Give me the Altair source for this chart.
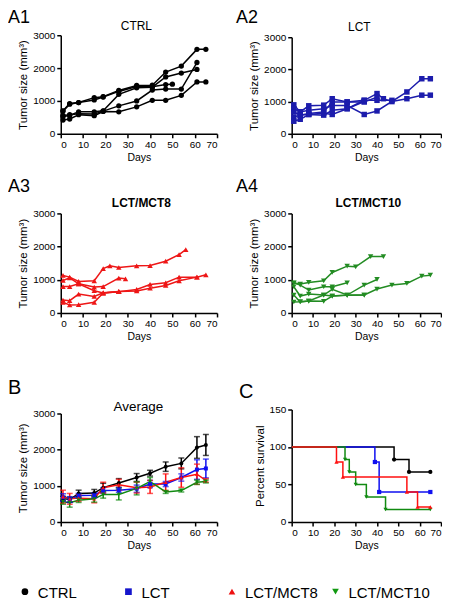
import altair as alt
import pandas as pd

FONT = "Liberation Sans"

GROUPS = ["CTRL", "LCT", "LCT/MCT8", "LCT/MCT10"]
DARK_COLORS = ["#000000", "#1c1cac", "#ee1616", "#238c23"]
BRIGHT_COLORS = ["#000000", "#1010f0", "#ff1010", "#118a11"]
SHAPES = ["circle", "square", "triangle-up", "triangle-down"]

X_TICKS = [0, 10, 20, 30, 40, 50, 60, 70]
Y_TICKS = [0, 1000, 2000, 3000]
SURV_TICKS = [0, 50, 100, 150]

# ---- A1: CTRL individual mice ----
CTRL_DAYS = [1, 4, 8, 15, 19, 26, 34, 41, 47, 50, 54, 61, 65]
CTRL_M1 = [700, 920, 950, 1100, 1130, 1320, 1470, 1480, 1880, None, 2060, 2570, 2570]
CTRL_M2 = [690, 900, 950, 1030, 1120, 1290, 1440, 1430, 1500, 1510, None, None, None]
CTRL_M3 = [520, 560, 670, 670, 700, 1200, 1400, 1420, 1730, None, 1850, 1960, None]
CTRL_M4 = [560, 580, 610, 600, 690, 850, 1000, 1330, 1360, None, 1360, 2170, None]
CTRL_M5 = [420, 450, 580, 550, 680, 670, 820, 1020, 1020, None, 1170, 1580, 1580]

# ---- A2: LCT ----
LCT_DAYS = [1, 4, 8, 15, 19, 26, 34, 40, 43, 47, 54, 61, 65]
LCT_M1 = [900, 680, 870, 890, 1090, 990, 1040, 1250, 1090, 1000, 1090, 1200, 1200]
LCT_M2 = [780, 680, 730, 780, 880, 880, 600, 710, None, None, 1300, 1710, 1710]
LCT_M3 = [680, 580, 630, 680, 990, 990, 990, 1140, None, None, None, None, None]
LCT_M4 = [520, 580, 600, 580, 730, 780, 1040, 1040, None, 1040, None, None, None]
LCT_M5 = [390, 450, 600, 640, 600, 780, 1000, None, None, None, None, None, None]

# ---- A3: LCT/MCT8 ----
MCT8_DAYS = [1, 4, 8, 15, 19, 22, 26, 29, 34, 40, 47, 53, 56, 61, 65]
MCT8_M1 = [1130, 1080, 950, 970, 1335, 1420, 1370, None, 1420, 1430, 1560, 1760, 1910, None, None]
MCT8_M2 = [980, 1060, 880, 780, 795, None, 1050, 1030, None, None, None, None, None, None, None]
MCT8_M3 = [795, 795, 880, 670, 600, None, 640, None, 710, 860, 910, 1080, None, 1080, 1150]
MCT8_M4 = [390, 370, 570, 500, 610, None, 650, None, 665, 745, 830, 970, None, 1080, None]
MCT8_M5 = [320, 240, 250, 320, 600, None, 640, None, None, None, None, None, None, None, None]

# ---- A4: LCT/MCT10 ----
MCT10_DAYS = [1, 4, 8, 15, 19, 26, 30, 34, 37, 40, 43, 47, 54, 61, 65]
MCT10_M1 = [900, 870, 920, 970, 1220, 1410, 1390, None, 1700, None, 1700, None, None, None, None]
MCT10_M2 = [910, 840, 690, 790, 790, 910, None, None, None, None, None, None, None, None, None]
MCT10_M3 = [790, 510, 570, 540, 710, 540, None, 840, None, 1010, None, None, None, None, None]
MCT10_M4 = [540, 330, 360, 350, 510, 530, None, 540, None, 720, None, 840, 890, 1110, 1140]
MCT10_M5 = [330, 340, 360, 540, 510, 540, None, 540, None, None, None, None, None, None, None]

# ---- B: averages ----
AVG_DAYS = [1, 4, 8, 15, 19, 26, 34, 40, 47, 54, 61, 65]
CTRL_MEAN = [650, 620, 790, 800, 950, 1080, 1230, 1350, 1530, 1620, 2060, 2130]
CTRL_SEM = [60, 70, 90, 100, 120, 120, 110, 80, 130, 150, 300, 290]
LCT_MEAN = [680, 620, 730, 740, 870, 880, 920, 1050, 1050, 1230, 1450, 1480]
LCT_SEM = [100, 80, 60, 70, 80, 60, 100, 100, 70, 100, 270, 260]
MCT8_MEAN = [700, 640, 660, 640, 950, 1030, 950, 970, 1100, 1230, 1320, 1150]
MCT8_SEM = [180, 150, 90, 110, 150, 150, 150, 180, 230, 270, 280, 50]
MCT10_MEAN = [560, 530, 600, 640, 760, 760, 930, 1120, 830, 870, 1100, 1120]
MCT10_SEM = [70, 120, 60, 90, 100, 150, 180, 110, 40, 40, 60, 40]

# ---- C: survival ----
CTRL_SURV_DAYS = [0, 48, 55, 65]
CTRL_SURV = [100, 83.3, 66.7, 66.7]
LCT_SURV_DAYS = [0, 39, 41, 65]
LCT_SURV = [100, 80, 40, 40]
MCT8_SURV_DAYS = [0, 21, 24, 54, 59, 65]
MCT8_SURV = [100, 80, 60, 40, 20, 20]
MCT10_SURV_DAYS = [0, 25, 27, 30, 35, 44, 65]
MCT10_SURV = [100, 83.3, 66.7, 50, 33.3, 16.7, 16.7]


def tidy(days, mice):
    rows = []
    for i, vals in enumerate(mice):
        for d, v in zip(days, vals):
            if v is not None:
                rows.append({"day": d, "size": v, "mouse": i})
    return pd.DataFrame(rows)


def txt(label, x, y, size, baseline="alphabetic", weight="normal", align="left"):
    return alt.Chart(pd.DataFrame({"t": [label]})).mark_text(
        font=FONT, fontSize=size, fontWeight=weight, align=align,
        baseline=baseline, color="black"
    ).encode(text="t:N", x=alt.value(x), y=alt.value(y))


def x_enc():
    return alt.X("day:Q", scale=alt.Scale(domain=[0, 70], nice=False),
                 axis=alt.Axis(values=X_TICKS, title="Days", titlePadding=3,
                               titleFontSize=10.5))


def tumor_panel(days, mice, color, shape, msize, width, height, top,
                label, lx, ly, lbase, title, tx, ty, tweight):
    df = tidy(days, mice)
    y = alt.Y("size:Q",
              scale=alt.Scale(domain=[0, 3000], nice=False, range=[height, top]),
              axis=alt.Axis(values=Y_TICKS, format="d", title="Tumor size (mm³)",
                            titlePadding=4))
    base = alt.Chart(df).encode(x=x_enc(), y=y, detail="mouse:N")
    lines = base.mark_line(color=color, strokeWidth=1.5).encode(order="day:Q")
    pts = base.mark_point(shape=shape, filled=True, size=msize, color=color, opacity=1)
    return alt.layer(
        lines, pts,
        txt(label, lx, ly, 18, baseline=lbase),
        txt(title, tx, ty, 12, weight=tweight, align="center"),
    ).properties(width=width, height=height)


a1 = tumor_panel(CTRL_DAYS, [CTRL_M1, CTRL_M2, CTRL_M3, CTRL_M4, CTRL_M5],
                 DARK_COLORS[0], "circle", 28, 157, 100, 1,
                 "A1", -53, -25, "top", "CTRL", 76, -4.5, "normal")
a2 = tumor_panel(LCT_DAYS, [LCT_M1, LCT_M2, LCT_M3, LCT_M4, LCT_M5],
                 DARK_COLORS[1], "square", 30, 150, 100, 3,
                 "A2", -56, -25, "top", "LCT", 68, -3, "normal")
a3 = tumor_panel(MCT8_DAYS, [MCT8_M1, MCT8_M2, MCT8_M3, MCT8_M4, MCT8_M5],
                 DARK_COLORS[2], "triangle-up", 30, 157, 160, 60,
                 "A3", -53, 38.7, "alphabetic", "LCT/MCT8", 81, 53.7, "bold")
a4 = tumor_panel(MCT10_DAYS, [MCT10_M1, MCT10_M2, MCT10_M3, MCT10_M4, MCT10_M5],
                 DARK_COLORS[3], "triangle-down", 30, 150, 160, 60,
                 "A4", -56, 38.7, "alphabetic", "LCT/MCT10", 77, 53.7, "bold")

# ---- B panel ----
avg_rows = []
for g, means, sems in zip(GROUPS, [CTRL_MEAN, LCT_MEAN, MCT8_MEAN, MCT10_MEAN],
                          [CTRL_SEM, LCT_SEM, MCT8_SEM, MCT10_SEM]):
    for d, m, s in zip(AVG_DAYS, means, sems):
        avg_rows.append({"group": g, "day": d, "mean": m, "lo": m - s, "hi": m + s})
avg_df = pd.DataFrame(avg_rows)

color_b = alt.Color("group:N", scale=alt.Scale(domain=GROUPS, range=BRIGHT_COLORS), legend=None)
shape_b = alt.Shape("group:N", scale=alt.Scale(domain=GROUPS, range=SHAPES), legend=None)
yB = alt.Y("mean:Q", scale=alt.Scale(domain=[0, 3000], nice=False, range=[190, 81]),
           axis=alt.Axis(values=Y_TICKS, format="d", title="Tumor size (mm³)", titlePadding=4))
baseB = alt.Chart(avg_df).encode(x=x_enc(), color=color_b)
b_rules = baseB.mark_rule(strokeWidth=1.5).encode(y=alt.Y("lo:Q"), y2="hi:Q")
b_cap_lo = baseB.mark_tick(orient="horizontal", size=6, thickness=1.5).encode(y="lo:Q")
b_cap_hi = baseB.mark_tick(orient="horizontal", size=6, thickness=1.5).encode(y="hi:Q")
b_line = baseB.mark_line(strokeWidth=1.5).encode(y=yB, order="day:Q")
b_pts = baseB.mark_point(filled=True, size=16, opacity=1).encode(y=yB, shape=shape_b)
panel_b = alt.layer(
    b_line, b_rules, b_cap_lo, b_cap_hi, b_pts,
    txt("B", -53, 61.3, 20),
    txt("Average", 78, 78.7, 13.5, align="center"),
).properties(width=157, height=190)

# ---- C panel ----
surv_rows = []
for g, days, vals in zip(GROUPS,
                         [CTRL_SURV_DAYS, LCT_SURV_DAYS, MCT8_SURV_DAYS, MCT10_SURV_DAYS],
                         [CTRL_SURV, LCT_SURV, MCT8_SURV, MCT10_SURV]):
    for d, v in zip(days, vals):
        surv_rows.append({"group": g, "day": d, "surv": v})
surv_df = pd.DataFrame(surv_rows)
draw_order = {"CTRL": 0, "LCT": 1, "LCT/MCT10": 2, "LCT/MCT8": 3}
surv_df["z"] = surv_df["group"].map(draw_order)
surv_df = surv_df.sort_values(["z", "day"])

yC = alt.Y("surv:Q", scale=alt.Scale(domain=[0, 150], nice=False, range=[190, 77]),
           axis=alt.Axis(values=SURV_TICKS, title="Percent survival", titlePadding=4))
color_c = alt.Color("group:N", scale=alt.Scale(domain=GROUPS, range=BRIGHT_COLORS), legend=None,
                    sort=["CTRL", "LCT", "LCT/MCT10", "LCT/MCT8"])
baseC = alt.Chart(surv_df).encode(x=x_enc(), y=yC, color=color_c)
c_line = baseC.mark_line(interpolate="step-after", strokeWidth=1.5).encode(order="day:Q")
c_pts = baseC.mark_point(filled=True, size=18, opacity=1).encode(shape=shape_b).transform_filter(
    alt.datum.day > 0)
panel_c = alt.layer(c_line, c_pts, txt("C", -53, 65, 20)).properties(width=150, height=190)

# ---- legend row ----
leg_df = pd.DataFrame({"group": GROUPS})
leg_x = alt.X("group:N", sort=GROUPS,
              scale=alt.Scale(type="point", domain=GROUPS, range=[-36, 276], padding=0),
              axis=None)
leg_pts = alt.Chart(leg_df).mark_point(filled=True, size=45, opacity=1).encode(
    x=leg_x, y=alt.value(50),
    color=alt.Color("group:N", scale=alt.Scale(domain=GROUPS, range=["#000000", "#1515cc", "#ee1111", "#119911"]), legend=None),
    shape=shape_b)
leg_txt = alt.Chart(leg_df).mark_text(align="left", dx=13, baseline="middle", fontSize=15,
                                      font=FONT, color="black").encode(
    x=leg_x, y=alt.value(51), text="group:N")
legend = alt.layer(leg_pts, leg_txt).properties(width=157, height=20)

chart = alt.concat(
    a1, a2, a3, a4, panel_b, panel_c, legend,
    columns=2, spacing={"row": 20, "column": 75}, bounds="flush", align="each",
).resolve_scale(x="independent", y="independent", color="independent", shape="independent"
).resolve_axis(x="independent", y="independent"
).properties(padding=0
).configure_view(stroke=None
).configure_axis(domainColor="black", domainWidth=1.5, tickColor="black", tickWidth=1.5,
                 tickSize=4, labelFont=FONT, labelFontSize=10, labelColor="black",
                 titleFont=FONT, titleFontSize=11.5, titleFontWeight="normal",
                 titleColor="black", grid=False, labelPadding=2)

chart.save("out.html", embed_options={"renderer": "svg", "actions": False})
